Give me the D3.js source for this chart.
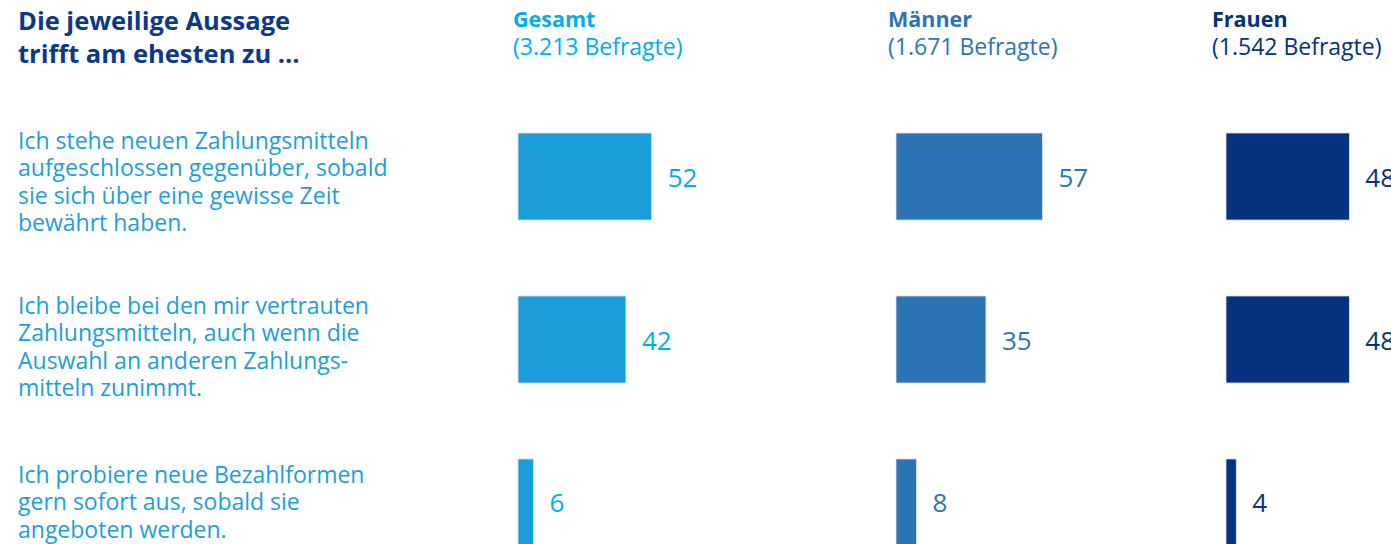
<!DOCTYPE html>
<html>
<head>
<meta charset="utf-8">
<script src="https://cdn.jsdelivr.net/npm/d3@7.9.0/dist/d3.min.js"></script>
<style>
  html, body { margin: 0; padding: 0; background: #fff; }
  svg { display: block; font-family: 'Open Sans', sans-serif; }
</style>
</head>
<body>
<svg id="chart" width="1391" height="544"></svg>
<script>
const titleLines = ['Die jeweilige Aussage', 'trifft am ehesten zu …'];
const groups = ['Gesamt', 'Männer', 'Frauen'];
const respondents = ['(3.213 Befragte)', '(1.671 Befragte)', '(1.542 Befragte)'];
const statements = [
  ['Ich stehe neuen Zahlungsmitteln', 'aufgeschlossen gegenüber, sobald', 'sie sich über eine gewisse Zeit', 'bewährt haben.'],
  ['Ich bleibe bei den mir vertrauten', 'Zahlungsmitteln, auch wenn die', 'Auswahl an anderen Zahlungs-', 'mitteln zunimmt.'],
  ['Ich probiere neue Bezahlformen', 'gern sofort aus, sobald sie', 'angeboten werden.'],
];
const gesamt = [52, 42, 6];
const maenner = [57, 35, 8];
const frauen = [48, 48, 4];

const series = [gesamt, maenner, frauen];

// layout
const colX = [518, 896, 1226];
const headX = [513, 888, 1212];
const barColors = ['#1b9ddb', '#2e74b5', '#05317f'];
const headColors = ['#00aeef', '#2e74b5', '#05317f'];
const valueColors = ['#00aeef', '#2e74b5', '#05317f'];
const labelColor = '#1c9edb';
const titleColor = '#0b388a';
const firstBaseline = [149, 314, 483];

const svg = d3.select('#chart');

const x = d3.scaleLinear().domain([0, 100]).range([0, 257]);
const y = d3.scaleBand().domain(d3.range(statements.length)).range([133, 546]).paddingInner(0.466).paddingOuter(0);

// title
svg.append('text')
  .attr('x', 18).attr('y', 30)
  .attr('fill', titleColor)
  .attr('font-weight', 700)
  .attr('font-size', 25.5)
  .selectAll('tspan')
  .data(titleLines)
  .join('tspan')
  .attr('x', 18)
  .attr('dy', (d, i) => (i === 0 ? 0 : 33))
  .text((d) => d);

// column headers
groups.forEach((g, i) => {
  const t = svg.append('text').attr('fill', headColors[i]);
  t.append('tspan').attr('x', headX[i]).attr('y', 27).attr('font-weight', 700).attr('font-size', 21.5).text(g);
  t.append('tspan').attr('x', headX[i]).attr('y', 55).attr('font-size', 23).text(respondents[i]);
});

// statement labels
statements.forEach((lines, r) => {
  svg.append('text')
    .attr('fill', labelColor)
    .attr('font-size', 23)
    .selectAll('tspan')
    .data(lines)
    .join('tspan')
    .attr('x', 18)
    .attr('y', (d, i) => firstBaseline[r] + i * 27.3)
    .text((d) => d);
});

// bars and values
series.forEach((vals, c) => {
  const g = svg.append('g').attr('transform', `translate(${colX[c]},0)`);
  g.selectAll('rect')
    .data(vals)
    .join('rect')
    .attr('x', 0)
    .attr('y', (d, i) => y(i))
    .attr('width', (d) => x(d))
    .attr('height', y.bandwidth())
    .attr('fill', barColors[c])
    .attr('stroke', '#dfe4ea')
    .attr('stroke-width', 0.8);
  g.selectAll('text')
    .data(vals)
    .join('text')
    .attr('x', (d) => x(d) + 16)
    .attr('y', (d, i) => y(i) + y.bandwidth() / 2 + 10)
    .attr('fill', valueColors[c])
    .attr('font-size', 26)
    .text((d) => d);
});
</script>
</body>
</html>
